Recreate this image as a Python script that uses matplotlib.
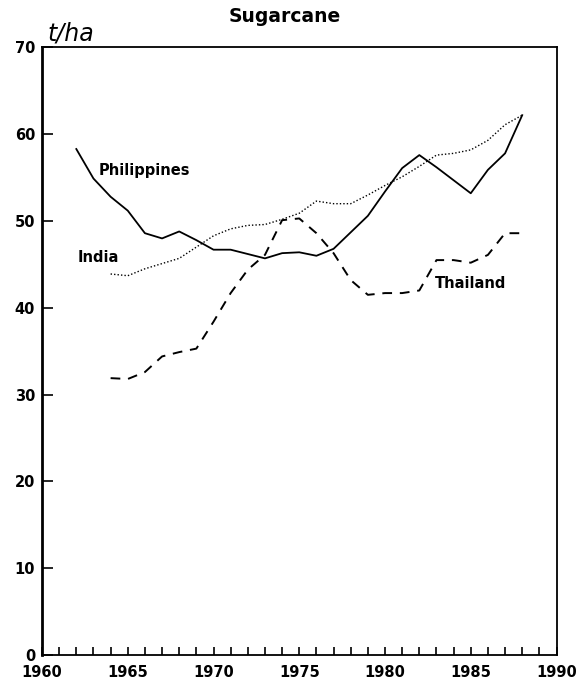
import matplotlib
matplotlib.use('Agg')
import matplotlib.pyplot as plt

# yields, t/ha
phil_years = list(range(1962, 1989))
phil_yield = [58.3, 54.9, 52.8, 51.2, 48.6, 48.0, 48.8, 47.8, 46.7, 46.7,
              46.2, 45.7, 46.3, 46.4, 46.0, 46.8, 48.7, 50.6, 53.4, 56.1,
              57.6, 56.2, 54.7, 53.2, 55.9, 57.8, 62.2]

india_years = list(range(1964, 1989))
india_yield = [43.9, 43.7, 44.5, 45.1, 45.7, 47.0, 48.3, 49.1, 49.5, 49.6,
               50.2, 50.9, 52.3, 52.0, 52.0, 53.0, 54.1, 55.1, 56.3, 57.6,
               57.8, 58.2, 59.3, 61.1, 62.2]

thai_years = list(range(1964, 1989))
thai_yield = [31.9, 31.8, 32.6, 34.4, 34.9, 35.3, 38.4, 41.7, 44.4, 46.1,
              50.1, 50.3, 48.6, 46.3, 43.2, 41.5, 41.7, 41.7, 42.0, 45.5,
              45.5, 45.2, 46.1, 48.6, 48.6]

xtick_pos = list(range(1960, 1991))
xtick_lab = [str(y) if y % 5 == 0 else '' for y in xtick_pos]
ytick_pos = [0, 10, 20, 30, 40, 50, 60, 70]

fig = plt.figure(figsize=(5.77, 6.83), dpi=100)
ax = fig.add_axes([0.0728, 0.041, 0.8917, 0.8895])

ax.plot(phil_years, phil_yield, color='black', lw=1.3, ls='-')
ax.plot(india_years, india_yield, color='black', lw=1.0, ls=(0, (1, 1.5)))
ax.plot(thai_years, thai_yield, color='black', lw=1.4, ls=(0, (5, 4)))

lab = dict(fontsize=10.5, fontweight='bold', va='center')
ax.text(1963.3, 55.8, 'Philippines', **lab)
ax.text(1962.1, 45.8, 'India', **lab)
ax.text(1982.9, 42.8, 'Thailand', **lab)

ax.set_xlim(1960, 1990)
ax.set_ylim(0, 70)
ax.set_xticks(xtick_pos)
ax.set_xticklabels(xtick_lab, fontweight='bold', fontsize=10.5)
ax.set_yticks(ytick_pos)
ax.set_yticklabels([str(v) for v in ytick_pos], fontweight='bold', fontsize=10.5)
ax.tick_params(axis='x', direction='in', length=6, width=1.2, pad=7)
ax.tick_params(axis='y', direction='in', length=8, width=1.2, pad=5)
for s in ax.spines.values():
    s.set_linewidth(1.3)
ax.spines['left'].set_linewidth(2)

fig.text(0.494, 0.976, 'Sugarcane', fontsize=13.5, fontweight='bold',
         ha='center', va='center')
fig.text(0.083, 0.94, 't/ha', fontsize=17, fontstyle='italic', ha='left',
         va='baseline')

fig.savefig('out.png', dpi=100)
